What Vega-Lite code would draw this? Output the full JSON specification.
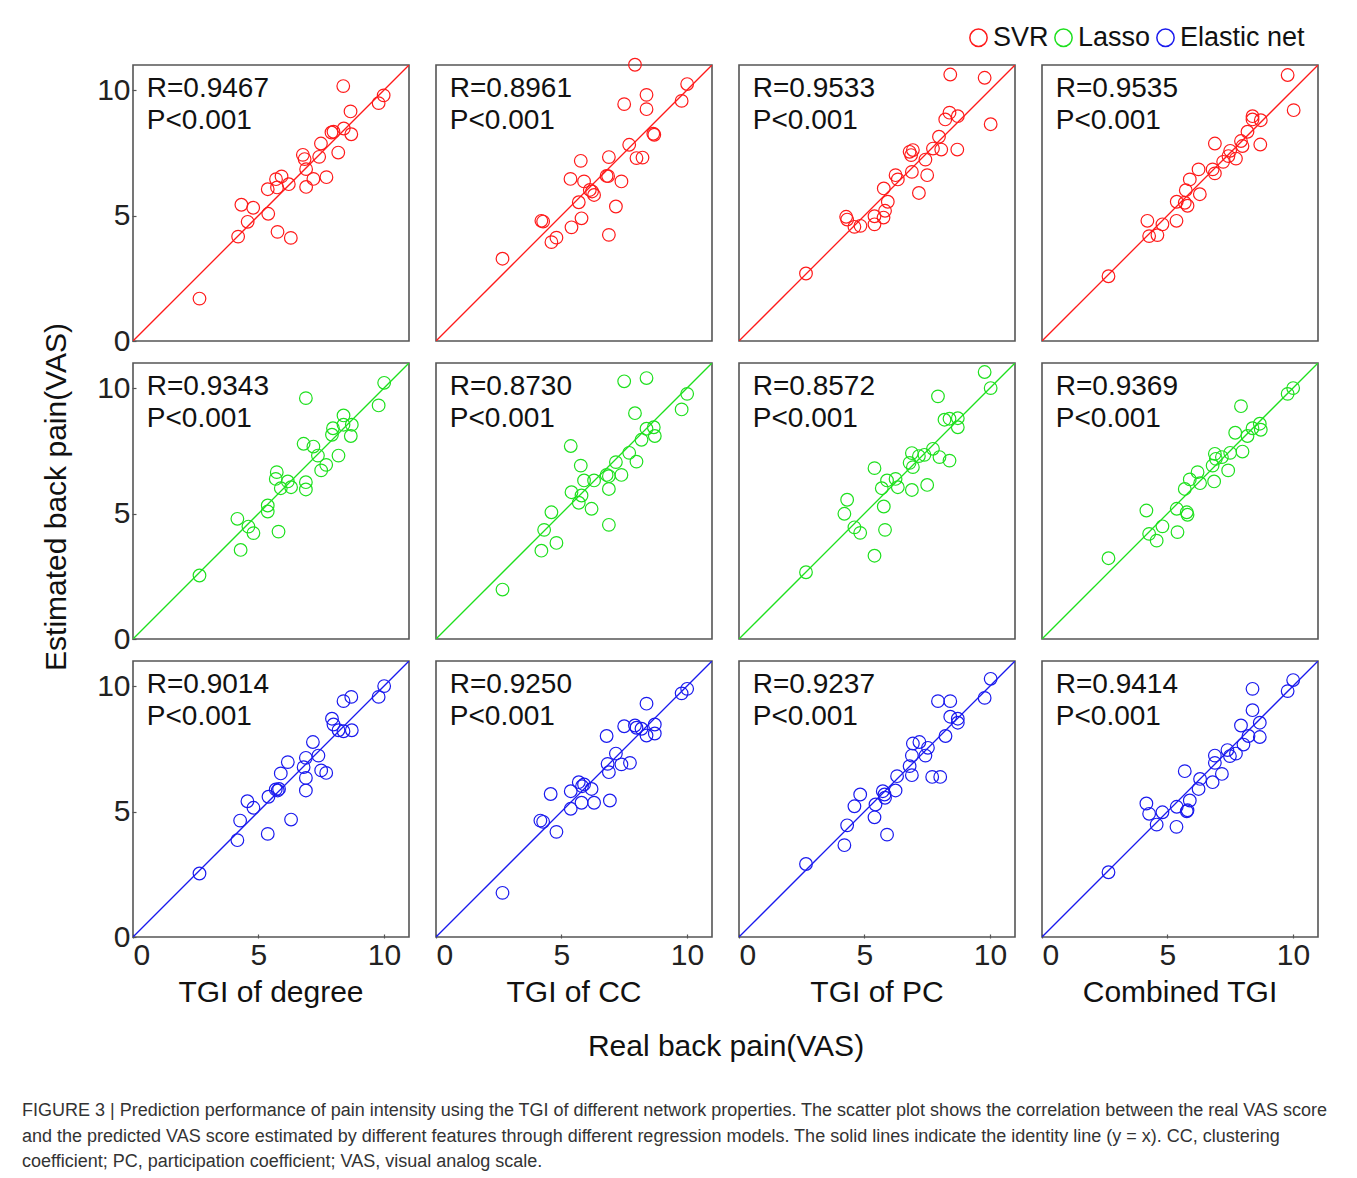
{
"$schema": "https://vega.github.io/schema/vega-lite/v6.json",
"background": "white",
"padding": {"left": 21, "top": 24, "right": 20, "bottom": 10},
"data": {"values": [
{"k":"a","m":"SVR","f":"TGI of degree","R":"R=0.9467","P":"P<0.001"},
{"k":"a","m":"SVR","f":"TGI of CC","R":"R=0.8961","P":"P<0.001"},
{"k":"a","m":"SVR","f":"TGI of PC","R":"R=0.9533","P":"P<0.001"},
{"k":"a","m":"SVR","f":"Combined TGI","R":"R=0.9535","P":"P<0.001"},
{"k":"a","m":"Lasso","f":"TGI of degree","R":"R=0.9343","P":"P<0.001"},
{"k":"a","m":"Lasso","f":"TGI of CC","R":"R=0.8730","P":"P<0.001"},
{"k":"a","m":"Lasso","f":"TGI of PC","R":"R=0.8572","P":"P<0.001"},
{"k":"a","m":"Lasso","f":"Combined TGI","R":"R=0.9369","P":"P<0.001"},
{"k":"a","m":"Elastic net","f":"TGI of degree","R":"R=0.9014","P":"P<0.001"},
{"k":"a","m":"Elastic net","f":"TGI of CC","R":"R=0.9250","P":"P<0.001"},
{"k":"a","m":"Elastic net","f":"TGI of PC","R":"R=0.9237","P":"P<0.001"},
{"k":"a","m":"Elastic net","f":"Combined TGI","R":"R=0.9414","P":"P<0.001"},
{"k":"l","m":"SVR","f":"TGI of degree","x":0,"y":0},{"k":"l","m":"SVR","f":"TGI of degree","x":11,"y":11},
{"k":"l","m":"SVR","f":"TGI of CC","x":0,"y":0},{"k":"l","m":"SVR","f":"TGI of CC","x":11,"y":11},
{"k":"l","m":"SVR","f":"TGI of PC","x":0,"y":0},{"k":"l","m":"SVR","f":"TGI of PC","x":11,"y":11},
{"k":"l","m":"SVR","f":"Combined TGI","x":0,"y":0},{"k":"l","m":"SVR","f":"Combined TGI","x":11,"y":11},
{"k":"l","m":"Lasso","f":"TGI of degree","x":0,"y":0},{"k":"l","m":"Lasso","f":"TGI of degree","x":11,"y":11},
{"k":"l","m":"Lasso","f":"TGI of CC","x":0,"y":0},{"k":"l","m":"Lasso","f":"TGI of CC","x":11,"y":11},
{"k":"l","m":"Lasso","f":"TGI of PC","x":0,"y":0},{"k":"l","m":"Lasso","f":"TGI of PC","x":11,"y":11},
{"k":"l","m":"Lasso","f":"Combined TGI","x":0,"y":0},{"k":"l","m":"Lasso","f":"Combined TGI","x":11,"y":11},
{"k":"l","m":"Elastic net","f":"TGI of degree","x":0,"y":0},{"k":"l","m":"Elastic net","f":"TGI of degree","x":11,"y":11},
{"k":"l","m":"Elastic net","f":"TGI of CC","x":0,"y":0},{"k":"l","m":"Elastic net","f":"TGI of CC","x":11,"y":11},
{"k":"l","m":"Elastic net","f":"TGI of PC","x":0,"y":0},{"k":"l","m":"Elastic net","f":"TGI of PC","x":11,"y":11},
{"k":"l","m":"Elastic net","f":"Combined TGI","x":0,"y":0},{"k":"l","m":"Elastic net","f":"Combined TGI","x":11,"y":11},

{"k":"p","m":"SVR","f":"TGI of degree","x":2.65,"y":1.69},{"k":"p","m":"SVR","f":"TGI of degree","x":4.19,"y":4.16},{"k":"p","m":"SVR","f":"TGI of degree","x":4.32,"y":5.43},{"k":"p","m":"SVR","f":"TGI of degree","x":4.57,"y":4.75},{"k":"p","m":"SVR","f":"TGI of degree","x":4.79,"y":5.31},{"k":"p","m":"SVR","f":"TGI of degree","x":5.39,"y":5.07},{"k":"p","m":"SVR","f":"TGI of degree","x":5.37,"y":6.05},{"k":"p","m":"SVR","f":"TGI of degree","x":5.76,"y":4.35},{"k":"p","m":"SVR","f":"TGI of degree","x":6.29,"y":4.11},{"k":"p","m":"SVR","f":"TGI of degree","x":5.70,"y":6.45},{"k":"p","m":"SVR","f":"TGI of degree","x":5.92,"y":6.56},{"k":"p","m":"SVR","f":"TGI of degree","x":5.74,"y":6.12},{"k":"p","m":"SVR","f":"TGI of degree","x":6.21,"y":6.25},{"k":"p","m":"SVR","f":"TGI of degree","x":6.77,"y":7.42},{"k":"p","m":"SVR","f":"TGI of degree","x":6.84,"y":7.25},{"k":"p","m":"SVR","f":"TGI of degree","x":6.90,"y":6.85},{"k":"p","m":"SVR","f":"TGI of degree","x":6.90,"y":6.14},{"k":"p","m":"SVR","f":"TGI of degree","x":7.19,"y":6.46},{"k":"p","m":"SVR","f":"TGI of degree","x":7.42,"y":7.34},{"k":"p","m":"SVR","f":"TGI of degree","x":7.49,"y":7.87},{"k":"p","m":"SVR","f":"TGI of degree","x":7.71,"y":6.53},{"k":"p","m":"SVR","f":"TGI of degree","x":7.91,"y":8.31},{"k":"p","m":"SVR","f":"TGI of degree","x":7.99,"y":8.34},{"k":"p","m":"SVR","f":"TGI of degree","x":8.18,"y":7.51},{"k":"p","m":"SVR","f":"TGI of degree","x":8.40,"y":8.47},{"k":"p","m":"SVR","f":"TGI of degree","x":8.38,"y":10.16},{"k":"p","m":"SVR","f":"TGI of degree","x":8.67,"y":9.15},{"k":"p","m":"SVR","f":"TGI of degree","x":8.70,"y":8.24},{"k":"p","m":"SVR","f":"TGI of degree","x":9.79,"y":9.48},{"k":"p","m":"SVR","f":"TGI of degree","x":9.99,"y":9.79},

{"k":"p","m":"SVR","f":"TGI of CC","x":2.65,"y":3.28},{"k":"p","m":"SVR","f":"TGI of CC","x":4.20,"y":4.79},{"k":"p","m":"SVR","f":"TGI of CC","x":4.27,"y":4.76},{"k":"p","m":"SVR","f":"TGI of CC","x":4.60,"y":3.94},{"k":"p","m":"SVR","f":"TGI of CC","x":4.80,"y":4.12},{"k":"p","m":"SVR","f":"TGI of CC","x":5.40,"y":4.53},{"k":"p","m":"SVR","f":"TGI of CC","x":5.80,"y":4.89},{"k":"p","m":"SVR","f":"TGI of CC","x":5.69,"y":5.53},{"k":"p","m":"SVR","f":"TGI of CC","x":5.36,"y":6.46},{"k":"p","m":"SVR","f":"TGI of CC","x":5.90,"y":6.36},{"k":"p","m":"SVR","f":"TGI of CC","x":5.77,"y":7.18},{"k":"p","m":"SVR","f":"TGI of CC","x":6.13,"y":6.02},{"k":"p","m":"SVR","f":"TGI of CC","x":6.30,"y":5.82},{"k":"p","m":"SVR","f":"TGI of CC","x":6.22,"y":5.96},{"k":"p","m":"SVR","f":"TGI of CC","x":6.80,"y":6.58},{"k":"p","m":"SVR","f":"TGI of CC","x":6.89,"y":7.33},{"k":"p","m":"SVR","f":"TGI of CC","x":6.89,"y":4.23},{"k":"p","m":"SVR","f":"TGI of CC","x":7.17,"y":5.36},{"k":"p","m":"SVR","f":"TGI of CC","x":7.39,"y":6.36},{"k":"p","m":"SVR","f":"TGI of CC","x":6.86,"y":6.57},{"k":"p","m":"SVR","f":"TGI of CC","x":7.70,"y":7.82},{"k":"p","m":"SVR","f":"TGI of CC","x":7.99,"y":7.29},{"k":"p","m":"SVR","f":"TGI of CC","x":8.23,"y":7.31},{"k":"p","m":"SVR","f":"TGI of CC","x":7.50,"y":9.44},{"k":"p","m":"SVR","f":"TGI of CC","x":8.39,"y":9.81},{"k":"p","m":"SVR","f":"TGI of CC","x":8.39,"y":9.24},{"k":"p","m":"SVR","f":"TGI of CC","x":7.93,"y":11.01},{"k":"p","m":"SVR","f":"TGI of CC","x":8.66,"y":8.26},{"k":"p","m":"SVR","f":"TGI of CC","x":8.70,"y":8.22},{"k":"p","m":"SVR","f":"TGI of CC","x":9.79,"y":9.57},{"k":"p","m":"SVR","f":"TGI of CC","x":10.01,"y":10.24},

{"k":"p","m":"SVR","f":"TGI of PC","x":2.67,"y":2.69},{"k":"p","m":"SVR","f":"TGI of PC","x":4.27,"y":4.95},{"k":"p","m":"SVR","f":"TGI of PC","x":4.31,"y":4.84},{"k":"p","m":"SVR","f":"TGI of PC","x":4.60,"y":4.55},{"k":"p","m":"SVR","f":"TGI of PC","x":4.84,"y":4.59},{"k":"p","m":"SVR","f":"TGI of PC","x":5.40,"y":4.65},{"k":"p","m":"SVR","f":"TGI of PC","x":5.40,"y":4.97},{"k":"p","m":"SVR","f":"TGI of PC","x":5.76,"y":4.92},{"k":"p","m":"SVR","f":"TGI of PC","x":5.82,"y":5.19},{"k":"p","m":"SVR","f":"TGI of PC","x":5.93,"y":5.55},{"k":"p","m":"SVR","f":"TGI of PC","x":5.77,"y":6.08},{"k":"p","m":"SVR","f":"TGI of PC","x":6.24,"y":6.61},{"k":"p","m":"SVR","f":"TGI of PC","x":6.33,"y":6.44},{"k":"p","m":"SVR","f":"TGI of PC","x":6.80,"y":7.54},{"k":"p","m":"SVR","f":"TGI of PC","x":6.86,"y":7.41},{"k":"p","m":"SVR","f":"TGI of PC","x":6.93,"y":7.61},{"k":"p","m":"SVR","f":"TGI of PC","x":6.89,"y":6.74},{"k":"p","m":"SVR","f":"TGI of PC","x":7.17,"y":5.90},{"k":"p","m":"SVR","f":"TGI of PC","x":7.43,"y":7.23},{"k":"p","m":"SVR","f":"TGI of PC","x":7.50,"y":6.61},{"k":"p","m":"SVR","f":"TGI of PC","x":7.73,"y":7.67},{"k":"p","m":"SVR","f":"TGI of PC","x":7.97,"y":8.14},{"k":"p","m":"SVR","f":"TGI of PC","x":8.06,"y":7.63},{"k":"p","m":"SVR","f":"TGI of PC","x":8.22,"y":8.83},{"k":"p","m":"SVR","f":"TGI of PC","x":8.39,"y":9.10},{"k":"p","m":"SVR","f":"TGI of PC","x":8.72,"y":8.96},{"k":"p","m":"SVR","f":"TGI of PC","x":8.70,"y":7.63},{"k":"p","m":"SVR","f":"TGI of PC","x":8.42,"y":10.62},{"k":"p","m":"SVR","f":"TGI of PC","x":9.79,"y":10.49},{"k":"p","m":"SVR","f":"TGI of PC","x":10.03,"y":8.64},

{"k":"p","m":"SVR","f":"Combined TGI","x":2.65,"y":2.58},{"k":"p","m":"SVR","f":"Combined TGI","x":4.20,"y":4.79},{"k":"p","m":"SVR","f":"Combined TGI","x":4.27,"y":4.18},{"k":"p","m":"SVR","f":"Combined TGI","x":4.60,"y":4.22},{"k":"p","m":"SVR","f":"Combined TGI","x":4.80,"y":4.65},{"k":"p","m":"SVR","f":"Combined TGI","x":5.36,"y":4.79},{"k":"p","m":"SVR","f":"Combined TGI","x":5.37,"y":5.55},{"k":"p","m":"SVR","f":"Combined TGI","x":5.69,"y":5.51},{"k":"p","m":"SVR","f":"Combined TGI","x":5.80,"y":5.39},{"k":"p","m":"SVR","f":"Combined TGI","x":5.73,"y":6.01},{"k":"p","m":"SVR","f":"Combined TGI","x":5.89,"y":6.44},{"k":"p","m":"SVR","f":"Combined TGI","x":6.24,"y":6.84},{"k":"p","m":"SVR","f":"Combined TGI","x":6.29,"y":5.85},{"k":"p","m":"SVR","f":"Combined TGI","x":6.80,"y":6.84},{"k":"p","m":"SVR","f":"Combined TGI","x":6.89,"y":6.68},{"k":"p","m":"SVR","f":"Combined TGI","x":6.89,"y":7.87},{"k":"p","m":"SVR","f":"Combined TGI","x":7.22,"y":7.14},{"k":"p","m":"SVR","f":"Combined TGI","x":7.43,"y":7.37},{"k":"p","m":"SVR","f":"Combined TGI","x":7.50,"y":7.58},{"k":"p","m":"SVR","f":"Combined TGI","x":7.73,"y":7.27},{"k":"p","m":"SVR","f":"Combined TGI","x":7.93,"y":7.97},{"k":"p","m":"SVR","f":"Combined TGI","x":7.99,"y":7.77},{"k":"p","m":"SVR","f":"Combined TGI","x":8.19,"y":8.34},{"k":"p","m":"SVR","f":"Combined TGI","x":8.39,"y":8.96},{"k":"p","m":"SVR","f":"Combined TGI","x":8.39,"y":8.83},{"k":"p","m":"SVR","f":"Combined TGI","x":8.72,"y":8.80},{"k":"p","m":"SVR","f":"Combined TGI","x":8.70,"y":7.83},{"k":"p","m":"SVR","f":"Combined TGI","x":9.79,"y":10.60},{"k":"p","m":"SVR","f":"Combined TGI","x":10.03,"y":9.20},

{"k":"p","m":"Lasso","f":"TGI of degree","x":2.65,"y":2.53},{"k":"p","m":"Lasso","f":"TGI of degree","x":4.16,"y":4.79},{"k":"p","m":"Lasso","f":"TGI of degree","x":4.29,"y":3.55},{"k":"p","m":"Lasso","f":"TGI of degree","x":4.60,"y":4.48},{"k":"p","m":"Lasso","f":"TGI of degree","x":4.80,"y":4.22},{"k":"p","m":"Lasso","f":"TGI of degree","x":5.37,"y":5.32},{"k":"p","m":"Lasso","f":"TGI of degree","x":5.37,"y":5.08},{"k":"p","m":"Lasso","f":"TGI of degree","x":5.80,"y":4.28},{"k":"p","m":"Lasso","f":"TGI of degree","x":5.73,"y":6.65},{"k":"p","m":"Lasso","f":"TGI of degree","x":5.69,"y":6.38},{"k":"p","m":"Lasso","f":"TGI of degree","x":5.89,"y":6.01},{"k":"p","m":"Lasso","f":"TGI of degree","x":6.17,"y":6.28},{"k":"p","m":"Lasso","f":"TGI of degree","x":6.30,"y":6.05},{"k":"p","m":"Lasso","f":"TGI of degree","x":6.80,"y":7.78},{"k":"p","m":"Lasso","f":"TGI of degree","x":6.89,"y":6.25},{"k":"p","m":"Lasso","f":"TGI of degree","x":6.89,"y":5.96},{"k":"p","m":"Lasso","f":"TGI of degree","x":6.89,"y":9.60},{"k":"p","m":"Lasso","f":"TGI of degree","x":7.19,"y":7.67},{"k":"p","m":"Lasso","f":"TGI of degree","x":7.37,"y":7.31},{"k":"p","m":"Lasso","f":"TGI of degree","x":7.50,"y":6.72},{"k":"p","m":"Lasso","f":"TGI of degree","x":7.70,"y":6.94},{"k":"p","m":"Lasso","f":"TGI of degree","x":7.93,"y":8.14},{"k":"p","m":"Lasso","f":"TGI of degree","x":7.97,"y":8.40},{"k":"p","m":"Lasso","f":"TGI of degree","x":8.19,"y":7.31},{"k":"p","m":"Lasso","f":"TGI of degree","x":8.39,"y":8.91},{"k":"p","m":"Lasso","f":"TGI of degree","x":8.39,"y":8.54},{"k":"p","m":"Lasso","f":"TGI of degree","x":8.72,"y":8.54},{"k":"p","m":"Lasso","f":"TGI of degree","x":8.68,"y":8.09},{"k":"p","m":"Lasso","f":"TGI of degree","x":9.79,"y":9.31},{"k":"p","m":"Lasso","f":"TGI of degree","x":10.01,"y":10.21},

{"k":"p","m":"Lasso","f":"TGI of CC","x":2.65,"y":1.97},{"k":"p","m":"Lasso","f":"TGI of CC","x":4.20,"y":3.52},{"k":"p","m":"Lasso","f":"TGI of CC","x":4.31,"y":4.35},{"k":"p","m":"Lasso","f":"TGI of CC","x":4.60,"y":5.05},{"k":"p","m":"Lasso","f":"TGI of CC","x":4.80,"y":3.83},{"k":"p","m":"Lasso","f":"TGI of CC","x":5.37,"y":7.69},{"k":"p","m":"Lasso","f":"TGI of CC","x":5.40,"y":5.85},{"k":"p","m":"Lasso","f":"TGI of CC","x":5.69,"y":5.43},{"k":"p","m":"Lasso","f":"TGI of CC","x":5.80,"y":5.72},{"k":"p","m":"Lasso","f":"TGI of CC","x":5.77,"y":6.91},{"k":"p","m":"Lasso","f":"TGI of CC","x":5.90,"y":6.32},{"k":"p","m":"Lasso","f":"TGI of CC","x":6.20,"y":5.19},{"k":"p","m":"Lasso","f":"TGI of CC","x":6.30,"y":6.32},{"k":"p","m":"Lasso","f":"TGI of CC","x":6.80,"y":6.54},{"k":"p","m":"Lasso","f":"TGI of CC","x":6.89,"y":6.49},{"k":"p","m":"Lasso","f":"TGI of CC","x":6.89,"y":5.98},{"k":"p","m":"Lasso","f":"TGI of CC","x":6.89,"y":4.55},{"k":"p","m":"Lasso","f":"TGI of CC","x":7.17,"y":7.05},{"k":"p","m":"Lasso","f":"TGI of CC","x":7.39,"y":6.54},{"k":"p","m":"Lasso","f":"TGI of CC","x":7.70,"y":7.42},{"k":"p","m":"Lasso","f":"TGI of CC","x":7.99,"y":7.07},{"k":"p","m":"Lasso","f":"TGI of CC","x":7.50,"y":10.27},{"k":"p","m":"Lasso","f":"TGI of CC","x":8.39,"y":10.40},{"k":"p","m":"Lasso","f":"TGI of CC","x":7.93,"y":9.00},{"k":"p","m":"Lasso","f":"TGI of CC","x":8.19,"y":7.94},{"k":"p","m":"Lasso","f":"TGI of CC","x":8.39,"y":8.38},{"k":"p","m":"Lasso","f":"TGI of CC","x":8.68,"y":8.44},{"k":"p","m":"Lasso","f":"TGI of CC","x":8.72,"y":8.09},{"k":"p","m":"Lasso","f":"TGI of CC","x":9.79,"y":9.15},{"k":"p","m":"Lasso","f":"TGI of CC","x":10.01,"y":9.77},

{"k":"p","m":"Lasso","f":"TGI of PC","x":2.67,"y":2.66},{"k":"p","m":"Lasso","f":"TGI of PC","x":4.31,"y":5.55},{"k":"p","m":"Lasso","f":"TGI of PC","x":4.20,"y":4.99},{"k":"p","m":"Lasso","f":"TGI of PC","x":4.60,"y":4.45},{"k":"p","m":"Lasso","f":"TGI of PC","x":4.83,"y":4.23},{"k":"p","m":"Lasso","f":"TGI of PC","x":5.40,"y":3.32},{"k":"p","m":"Lasso","f":"TGI of PC","x":5.40,"y":6.81},{"k":"p","m":"Lasso","f":"TGI of PC","x":5.77,"y":5.28},{"k":"p","m":"Lasso","f":"TGI of PC","x":5.82,"y":4.35},{"k":"p","m":"Lasso","f":"TGI of PC","x":5.69,"y":6.01},{"k":"p","m":"Lasso","f":"TGI of PC","x":5.90,"y":6.32},{"k":"p","m":"Lasso","f":"TGI of PC","x":6.24,"y":6.38},{"k":"p","m":"Lasso","f":"TGI of PC","x":6.33,"y":6.05},{"k":"p","m":"Lasso","f":"TGI of PC","x":6.80,"y":7.02},{"k":"p","m":"Lasso","f":"TGI of PC","x":6.89,"y":7.41},{"k":"p","m":"Lasso","f":"TGI of PC","x":6.93,"y":6.85},{"k":"p","m":"Lasso","f":"TGI of PC","x":6.89,"y":5.94},{"k":"p","m":"Lasso","f":"TGI of PC","x":7.17,"y":7.29},{"k":"p","m":"Lasso","f":"TGI of PC","x":7.39,"y":7.34},{"k":"p","m":"Lasso","f":"TGI of PC","x":7.50,"y":6.14},{"k":"p","m":"Lasso","f":"TGI of PC","x":7.73,"y":7.58},{"k":"p","m":"Lasso","f":"TGI of PC","x":7.99,"y":7.25},{"k":"p","m":"Lasso","f":"TGI of PC","x":8.39,"y":7.11},{"k":"p","m":"Lasso","f":"TGI of PC","x":7.93,"y":9.67},{"k":"p","m":"Lasso","f":"TGI of PC","x":8.19,"y":8.74},{"k":"p","m":"Lasso","f":"TGI of PC","x":8.39,"y":8.78},{"k":"p","m":"Lasso","f":"TGI of PC","x":8.72,"y":8.80},{"k":"p","m":"Lasso","f":"TGI of PC","x":8.72,"y":8.44},{"k":"p","m":"Lasso","f":"TGI of PC","x":9.79,"y":10.64},{"k":"p","m":"Lasso","f":"TGI of PC","x":10.03,"y":10.00},

{"k":"p","m":"Lasso","f":"Combined TGI","x":2.65,"y":3.22},{"k":"p","m":"Lasso","f":"Combined TGI","x":4.16,"y":5.12},{"k":"p","m":"Lasso","f":"Combined TGI","x":4.27,"y":4.19},{"k":"p","m":"Lasso","f":"Combined TGI","x":4.57,"y":3.92},{"k":"p","m":"Lasso","f":"Combined TGI","x":4.80,"y":4.49},{"k":"p","m":"Lasso","f":"Combined TGI","x":5.40,"y":4.26},{"k":"p","m":"Lasso","f":"Combined TGI","x":5.37,"y":5.19},{"k":"p","m":"Lasso","f":"Combined TGI","x":5.77,"y":5.05},{"k":"p","m":"Lasso","f":"Combined TGI","x":5.80,"y":4.95},{"k":"p","m":"Lasso","f":"Combined TGI","x":5.69,"y":5.98},{"k":"p","m":"Lasso","f":"Combined TGI","x":5.89,"y":6.36},{"k":"p","m":"Lasso","f":"Combined TGI","x":6.20,"y":6.65},{"k":"p","m":"Lasso","f":"Combined TGI","x":6.30,"y":6.21},{"k":"p","m":"Lasso","f":"Combined TGI","x":6.80,"y":6.91},{"k":"p","m":"Lasso","f":"Combined TGI","x":6.89,"y":7.38},{"k":"p","m":"Lasso","f":"Combined TGI","x":6.86,"y":6.28},{"k":"p","m":"Lasso","f":"Combined TGI","x":6.93,"y":7.18},{"k":"p","m":"Lasso","f":"Combined TGI","x":7.17,"y":7.25},{"k":"p","m":"Lasso","f":"Combined TGI","x":7.42,"y":6.72},{"k":"p","m":"Lasso","f":"Combined TGI","x":7.50,"y":7.42},{"k":"p","m":"Lasso","f":"Combined TGI","x":7.70,"y":8.22},{"k":"p","m":"Lasso","f":"Combined TGI","x":7.99,"y":7.47},{"k":"p","m":"Lasso","f":"Combined TGI","x":7.93,"y":9.28},{"k":"p","m":"Lasso","f":"Combined TGI","x":8.19,"y":8.09},{"k":"p","m":"Lasso","f":"Combined TGI","x":8.39,"y":8.40},{"k":"p","m":"Lasso","f":"Combined TGI","x":8.72,"y":8.34},{"k":"p","m":"Lasso","f":"Combined TGI","x":8.68,"y":8.58},{"k":"p","m":"Lasso","f":"Combined TGI","x":9.79,"y":9.77},{"k":"p","m":"Lasso","f":"Combined TGI","x":10.01,"y":10.00},

{"k":"p","m":"Elastic net","f":"TGI of degree","x":2.65,"y":2.53},{"k":"p","m":"Elastic net","f":"TGI of degree","x":4.16,"y":3.86},{"k":"p","m":"Elastic net","f":"TGI of degree","x":4.27,"y":4.64},{"k":"p","m":"Elastic net","f":"TGI of degree","x":4.56,"y":5.41},{"k":"p","m":"Elastic net","f":"TGI of degree","x":4.80,"y":5.15},{"k":"p","m":"Elastic net","f":"TGI of degree","x":5.37,"y":4.11},{"k":"p","m":"Elastic net","f":"TGI of degree","x":5.40,"y":5.59},{"k":"p","m":"Elastic net","f":"TGI of degree","x":5.69,"y":5.88},{"k":"p","m":"Elastic net","f":"TGI of degree","x":5.77,"y":5.84},{"k":"p","m":"Elastic net","f":"TGI of degree","x":5.82,"y":5.90},{"k":"p","m":"Elastic net","f":"TGI of degree","x":5.89,"y":6.52},{"k":"p","m":"Elastic net","f":"TGI of degree","x":6.30,"y":4.68},{"k":"p","m":"Elastic net","f":"TGI of degree","x":6.17,"y":6.97},{"k":"p","m":"Elastic net","f":"TGI of degree","x":6.80,"y":6.77},{"k":"p","m":"Elastic net","f":"TGI of degree","x":6.89,"y":7.14},{"k":"p","m":"Elastic net","f":"TGI of degree","x":6.89,"y":6.34},{"k":"p","m":"Elastic net","f":"TGI of degree","x":6.89,"y":5.84},{"k":"p","m":"Elastic net","f":"TGI of degree","x":7.17,"y":7.77},{"k":"p","m":"Elastic net","f":"TGI of degree","x":7.39,"y":7.23},{"k":"p","m":"Elastic net","f":"TGI of degree","x":7.50,"y":6.64},{"k":"p","m":"Elastic net","f":"TGI of degree","x":7.70,"y":6.54},{"k":"p","m":"Elastic net","f":"TGI of degree","x":7.93,"y":8.70},{"k":"p","m":"Elastic net","f":"TGI of degree","x":7.99,"y":8.47},{"k":"p","m":"Elastic net","f":"TGI of degree","x":8.19,"y":8.24},{"k":"p","m":"Elastic net","f":"TGI of degree","x":8.39,"y":9.40},{"k":"p","m":"Elastic net","f":"TGI of degree","x":8.39,"y":8.20},{"k":"p","m":"Elastic net","f":"TGI of degree","x":8.70,"y":9.57},{"k":"p","m":"Elastic net","f":"TGI of degree","x":8.72,"y":8.24},{"k":"p","m":"Elastic net","f":"TGI of degree","x":9.79,"y":9.57},{"k":"p","m":"Elastic net","f":"TGI of degree","x":10.01,"y":10.00},

{"k":"p","m":"Elastic net","f":"TGI of CC","x":2.65,"y":1.76},{"k":"p","m":"Elastic net","f":"TGI of CC","x":4.16,"y":4.64},{"k":"p","m":"Elastic net","f":"TGI of CC","x":4.27,"y":4.59},{"k":"p","m":"Elastic net","f":"TGI of CC","x":4.57,"y":5.70},{"k":"p","m":"Elastic net","f":"TGI of CC","x":4.80,"y":4.19},{"k":"p","m":"Elastic net","f":"TGI of CC","x":5.37,"y":5.11},{"k":"p","m":"Elastic net","f":"TGI of CC","x":5.37,"y":5.81},{"k":"p","m":"Elastic net","f":"TGI of CC","x":5.69,"y":6.17},{"k":"p","m":"Elastic net","f":"TGI of CC","x":5.80,"y":5.35},{"k":"p","m":"Elastic net","f":"TGI of CC","x":5.82,"y":6.01},{"k":"p","m":"Elastic net","f":"TGI of CC","x":5.90,"y":6.08},{"k":"p","m":"Elastic net","f":"TGI of CC","x":6.20,"y":5.90},{"k":"p","m":"Elastic net","f":"TGI of CC","x":6.30,"y":5.35},{"k":"p","m":"Elastic net","f":"TGI of CC","x":6.80,"y":8.01},{"k":"p","m":"Elastic net","f":"TGI of CC","x":6.84,"y":6.90},{"k":"p","m":"Elastic net","f":"TGI of CC","x":6.89,"y":6.57},{"k":"p","m":"Elastic net","f":"TGI of CC","x":6.93,"y":5.44},{"k":"p","m":"Elastic net","f":"TGI of CC","x":7.17,"y":7.31},{"k":"p","m":"Elastic net","f":"TGI of CC","x":7.39,"y":6.88},{"k":"p","m":"Elastic net","f":"TGI of CC","x":7.50,"y":8.40},{"k":"p","m":"Elastic net","f":"TGI of CC","x":7.73,"y":6.94},{"k":"p","m":"Elastic net","f":"TGI of CC","x":7.93,"y":8.43},{"k":"p","m":"Elastic net","f":"TGI of CC","x":7.99,"y":8.34},{"k":"p","m":"Elastic net","f":"TGI of CC","x":8.39,"y":9.30},{"k":"p","m":"Elastic net","f":"TGI of CC","x":8.19,"y":8.30},{"k":"p","m":"Elastic net","f":"TGI of CC","x":8.39,"y":8.03},{"k":"p","m":"Elastic net","f":"TGI of CC","x":8.72,"y":8.47},{"k":"p","m":"Elastic net","f":"TGI of CC","x":8.72,"y":8.11},{"k":"p","m":"Elastic net","f":"TGI of CC","x":9.79,"y":9.71},{"k":"p","m":"Elastic net","f":"TGI of CC","x":10.01,"y":9.89},

{"k":"p","m":"Elastic net","f":"TGI of PC","x":2.67,"y":2.91},{"k":"p","m":"Elastic net","f":"TGI of PC","x":4.20,"y":3.66},{"k":"p","m":"Elastic net","f":"TGI of PC","x":4.31,"y":4.45},{"k":"p","m":"Elastic net","f":"TGI of PC","x":4.60,"y":5.21},{"k":"p","m":"Elastic net","f":"TGI of PC","x":4.83,"y":5.68},{"k":"p","m":"Elastic net","f":"TGI of PC","x":5.40,"y":4.77},{"k":"p","m":"Elastic net","f":"TGI of PC","x":5.44,"y":5.28},{"k":"p","m":"Elastic net","f":"TGI of PC","x":5.73,"y":5.81},{"k":"p","m":"Elastic net","f":"TGI of PC","x":5.80,"y":5.68},{"k":"p","m":"Elastic net","f":"TGI of PC","x":5.90,"y":4.08},{"k":"p","m":"Elastic net","f":"TGI of PC","x":5.82,"y":5.55},{"k":"p","m":"Elastic net","f":"TGI of PC","x":6.24,"y":5.84},{"k":"p","m":"Elastic net","f":"TGI of PC","x":6.30,"y":6.41},{"k":"p","m":"Elastic net","f":"TGI of PC","x":6.80,"y":6.81},{"k":"p","m":"Elastic net","f":"TGI of PC","x":6.89,"y":7.23},{"k":"p","m":"Elastic net","f":"TGI of PC","x":6.93,"y":7.71},{"k":"p","m":"Elastic net","f":"TGI of PC","x":6.89,"y":6.45},{"k":"p","m":"Elastic net","f":"TGI of PC","x":7.19,"y":7.77},{"k":"p","m":"Elastic net","f":"TGI of PC","x":7.43,"y":7.23},{"k":"p","m":"Elastic net","f":"TGI of PC","x":7.53,"y":7.54},{"k":"p","m":"Elastic net","f":"TGI of PC","x":7.70,"y":6.38},{"k":"p","m":"Elastic net","f":"TGI of PC","x":8.02,"y":6.38},{"k":"p","m":"Elastic net","f":"TGI of PC","x":7.93,"y":9.40},{"k":"p","m":"Elastic net","f":"TGI of PC","x":8.23,"y":8.01},{"k":"p","m":"Elastic net","f":"TGI of PC","x":8.42,"y":9.40},{"k":"p","m":"Elastic net","f":"TGI of PC","x":8.42,"y":8.78},{"k":"p","m":"Elastic net","f":"TGI of PC","x":8.72,"y":8.70},{"k":"p","m":"Elastic net","f":"TGI of PC","x":8.72,"y":8.54},{"k":"p","m":"Elastic net","f":"TGI of PC","x":9.79,"y":9.53},{"k":"p","m":"Elastic net","f":"TGI of PC","x":10.03,"y":10.29},

{"k":"p","m":"Elastic net","f":"Combined TGI","x":2.65,"y":2.58},{"k":"p","m":"Elastic net","f":"Combined TGI","x":4.16,"y":5.32},{"k":"p","m":"Elastic net","f":"Combined TGI","x":4.27,"y":4.91},{"k":"p","m":"Elastic net","f":"Combined TGI","x":4.57,"y":4.48},{"k":"p","m":"Elastic net","f":"Combined TGI","x":4.80,"y":4.97},{"k":"p","m":"Elastic net","f":"Combined TGI","x":5.36,"y":4.39},{"k":"p","m":"Elastic net","f":"Combined TGI","x":5.37,"y":5.19},{"k":"p","m":"Elastic net","f":"Combined TGI","x":5.80,"y":5.05},{"k":"p","m":"Elastic net","f":"Combined TGI","x":5.77,"y":5.01},{"k":"p","m":"Elastic net","f":"Combined TGI","x":5.89,"y":5.44},{"k":"p","m":"Elastic net","f":"Combined TGI","x":5.69,"y":6.61},{"k":"p","m":"Elastic net","f":"Combined TGI","x":6.24,"y":5.90},{"k":"p","m":"Elastic net","f":"Combined TGI","x":6.30,"y":6.30},{"k":"p","m":"Elastic net","f":"Combined TGI","x":6.80,"y":6.17},{"k":"p","m":"Elastic net","f":"Combined TGI","x":6.89,"y":7.23},{"k":"p","m":"Elastic net","f":"Combined TGI","x":6.89,"y":6.94},{"k":"p","m":"Elastic net","f":"Combined TGI","x":7.17,"y":6.50},{"k":"p","m":"Elastic net","f":"Combined TGI","x":7.39,"y":7.45},{"k":"p","m":"Elastic net","f":"Combined TGI","x":7.49,"y":7.21},{"k":"p","m":"Elastic net","f":"Combined TGI","x":7.73,"y":7.31},{"k":"p","m":"Elastic net","f":"Combined TGI","x":8.03,"y":7.67},{"k":"p","m":"Elastic net","f":"Combined TGI","x":7.93,"y":8.43},{"k":"p","m":"Elastic net","f":"Combined TGI","x":8.23,"y":8.01},{"k":"p","m":"Elastic net","f":"Combined TGI","x":8.39,"y":9.89},{"k":"p","m":"Elastic net","f":"Combined TGI","x":8.39,"y":9.04},{"k":"p","m":"Elastic net","f":"Combined TGI","x":8.68,"y":8.54},{"k":"p","m":"Elastic net","f":"Combined TGI","x":8.68,"y":7.97},{"k":"p","m":"Elastic net","f":"Combined TGI","x":9.79,"y":9.80},{"k":"p","m":"Elastic net","f":"Combined TGI","x":10.01,"y":10.24}
]},
"facet": {
  "row": {"field": "m", "type": "nominal", "sort": ["SVR", "Lasso", "Elastic net"],
    "header": {"labels": false, "title": "Estimated back pain(VAS)", "titleOrient": "left", "titleFont": "Liberation Sans", "titleFontSize": 30, "titleFontWeight": "normal", "titleColor": "#111", "titlePadding": 14}},
  "column": {"field": "f", "type": "nominal", "sort": ["TGI of degree", "TGI of CC", "TGI of PC", "Combined TGI"],
    "header": {"labelOrient": "bottom", "labelFont": "Liberation Sans", "labelFontSize": 30, "labelColor": "#111", "labelPadding": 8, "title": "Real back pain(VAS)", "titleOrient": "bottom", "titleFont": "Liberation Sans", "titleFontSize": 30, "titleFontWeight": "normal", "titleColor": "#111", "titlePadding": 14}}
},
"spacing": {"row": 20, "column": 25},
"spec": {
  "width": 276,
  "height": 276,
  "layer": [
    {"transform": [{"filter": "datum.k === 'p'"}],
     "mark": {"type": "point", "shape": "circle", "filled": false, "size": 160, "strokeWidth": 1.2, "opacity": 1},
     "encoding": {
       "x": {"field": "x", "type": "quantitative", "scale": {"domain": [0, 11], "nice": false, "zero": false},
             "axis": {"title": null, "values": [0, 5, 10], "grid": false, "domain": false, "tickSize": -4, "tickColor": "#555", "tickWidth": 1.2, "labelPadding": 6, "labelFont": "Liberation Sans", "labelFontSize": 30, "labelColor": "#222"}},
       "y": {"field": "y", "type": "quantitative", "scale": {"domain": [0, 11], "nice": false, "zero": false},
             "axis": {"title": null, "values": [0, 5, 10], "grid": false, "domain": false, "tickSize": -4, "tickColor": "#555", "tickWidth": 1.2, "labelPadding": 6, "labelFont": "Liberation Sans", "labelFontSize": 30, "labelColor": "#222"}},
       "color": {"field": "m", "type": "nominal", "sort": ["SVR", "Lasso", "Elastic net"], "scale": {"domain": ["SVR", "Lasso", "Elastic net"], "range": ["#ff1a1a", "#1ee01e", "#1a1aee"]},
                 "legend": {"title": null, "orient": "none", "legendX": 832, "legendY": -41, "direction": "horizontal", "labelFont": "Liberation Sans", "labelFontSize": 27, "labelColor": "#111", "symbolSize": 300, "symbolStrokeWidth": 1.5, "symbolType": "circle", "columnPadding": 1, "labelOffset": 1}}
     }},
    {"transform": [{"filter": "datum.k === 'l'"}],
     "mark": {"type": "line", "strokeWidth": 1.3, "clip": true},
     "encoding": {
       "x": {"field": "x", "type": "quantitative"},
       "y": {"field": "y", "type": "quantitative"},
       "color": {"field": "m", "type": "nominal"}
     }},
    {"transform": [{"filter": "datum.k === 'a'"}],
     "mark": {"type": "text", "align": "left", "baseline": "middle", "font": "Liberation Sans", "fontSize": 28, "color": "#111"},
     "encoding": {"x": {"datum": 0.55, "type": "quantitative"}, "y": {"datum": 10.05, "type": "quantitative"}, "text": {"field": "R"}}},
    {"transform": [{"filter": "datum.k === 'a'"}],
     "mark": {"type": "text", "align": "left", "baseline": "middle", "font": "Liberation Sans", "fontSize": 28, "color": "#111"},
     "encoding": {"x": {"datum": 0.55, "type": "quantitative"}, "y": {"datum": 8.75, "type": "quantitative"}, "text": {"field": "P"}}}
  ]
},
"title": {
  "text": [
    "FIGURE 3 | Prediction performance of pain intensity using the TGI of different network properties. The scatter plot shows the correlation between the real VAS score",
    "and the predicted VAS score estimated by different features through different regression models. The solid lines indicate the identity line (y = x). CC, clustering",
    "coefficient; PC, participation coefficient; VAS, visual analog scale."
  ],
  "orient": "bottom", "anchor": "start", "frame": "bounds", "dx": -20, "offset": 40,
  "font": "Liberation Sans", "fontSize": 18, "fontWeight": "normal", "color": "#333", "lineHeight": 25.5
},
"config": {
  "view": {"stroke": "#555", "strokeWidth": 1.6},
  "font": "Liberation Sans"
}
}
